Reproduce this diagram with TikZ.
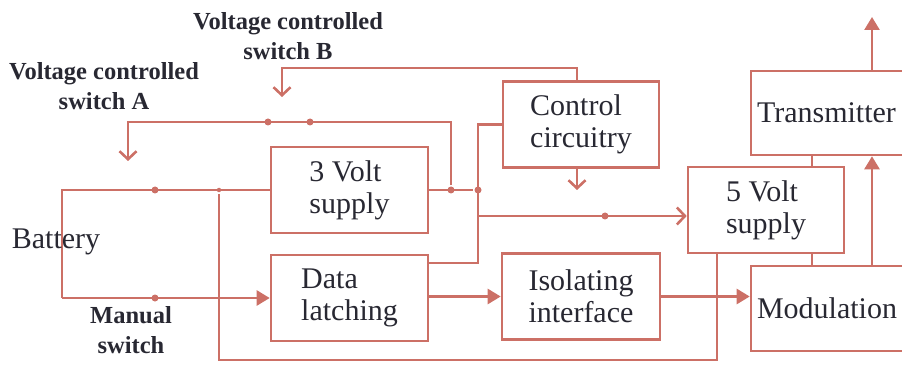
\documentclass[tikz,border=0pt]{standalone}
\usepackage{fontspec}
\setmainfont{Liberation Serif}
\usetikzlibrary{positioning, arrows.meta, calc}
\definecolor{cW}{RGB}{204,112,102}
\definecolor{cT}{RGB}{40,40,50}

\tikzset{
  blk/.style={draw=cW, text=cT, minimum width=157pt, minimum height=86pt,
    inner sep=0pt, align=left, font=\fontsize{30}{32}\selectfont},
  wblk/.style={blk, text width=153pt, inner xsep=6pt},
  lbl/.style={text=cT, inner sep=0pt, align=center, font=\bfseries\fontsize{24.5}{30}\selectfont},
  wire/.style={draw=cW},
  jn/.style={circle, fill=cW, inner sep=0pt, minimum size=7pt},
  barb/.style={-{Straight Barb[length=8pt, width=17pt]}},
  tri/.style={-{Triangle[length=13pt, width=15pt]}}
}

\begin{document}
\begin{tikzpicture}[x=1pt, y=-1pt, on grid, line width=2.6pt]
  \useasboundingbox (0,0) rectangle (902,366);
  \clip (0,0) rectangle (902,366);

  % blocks
  \node[blk] (v3) at (349.5,190) {3 Volt\\supply};
  \node[blk, below=108pt of v3] (latch) {Data\\latching};
  \node[blk, minimum width=156pt] (ctrl) at (581,124.5) {Control\\circuitry};
  \node[blk, minimum width=158pt, below=172pt of ctrl] (iso) {Isolating\\interface};
  \node[blk, minimum width=156pt] (v5) at (766,210) {5 Volt\\supply};
  \node[wblk, minimum height=84pt] (tx) at (833.5,113) {Transmitter};
  \node[wblk, minimum height=85pt, below=195.5pt of tx] (mod) {Modulation};

  % labels
  \node[lbl] (swB) at (288,36.5) {Voltage controlled\\switch B};
  \node[lbl] (swA) at (104,86.5) {Voltage controlled\\switch A};
  \node[lbl] (man) at (131,330) {Manual\\switch};

  % wire corners and free ends
  \coordinate (bt) at (62,190);
  \coordinate (bb) at (62,298);
  \coordinate (rb) at (219,360);
  \coordinate (ka) at (128,122);
  \coordinate (ea) at (128,161);
  \coordinate (kb) at (282,68);
  \coordinate (eb) at (282,97);
  \coordinate (k2) at (478,263);
  \coordinate (k3) at (478,216);
  \coordinate (ec) at (577,190);
  \coordinate (ant) at (872,17);

  \node[jn, minimum size=4.5pt] (j1) at (219,190) {};
  \node[jn] (j2) at (451,190) {};
  \node[jn] (j3) at (478,190) {};

  \draw[wire] (v3.west) -- (bt) -- (bb);
  \draw[wire, tri] (bb) -- (bb -| latch.west);
  \draw[wire] ([xshift=-49pt]v5.south) |- (rb) -- (j1);
  \draw[wire] (v3.east) -- (j3);
  \draw[wire, barb] (j2) |- (ka) -- (ea);
  \draw[wire, barb] ([xshift=-4pt]ctrl.north) |- (kb) -- (eb);
  \draw[wire] (ctrl.west) -| (k2) -- (k2 -| latch.east);
  \draw[wire, barb] (k3) -- (k3 -| v5.west);
  \draw[wire, barb] (ctrl.south -| ec) -- (ec);
  \draw[wire, tri] (iso.west -| latch.east) -- (iso.west);
  \draw[wire, tri] (iso.east) -- (iso.east -| mod.west);
  \draw[wire] ([xshift=46pt]v5.north) -- ([xshift=-21.5pt]tx.south);
  \draw[wire] ([xshift=46pt]v5.south) -- ([xshift=-21.5pt]mod.north);
  \draw[wire, tri] ([xshift=38.5pt]mod.north) -- ([xshift=38.5pt]tx.south);
  \draw[wire, tri] (tx.north -| ant) -- (ant);

  \foreach \p [count=\i] in {(155,190),(155,298),(268,122),(310,122),(605,216)}
    \node[jn] (d\i) at \p {};

  \node[text=cT, inner sep=0pt, font=\fontsize{30}{32}\selectfont] (bat) at (56,242) {Battery};
\end{tikzpicture}
\end{document}
